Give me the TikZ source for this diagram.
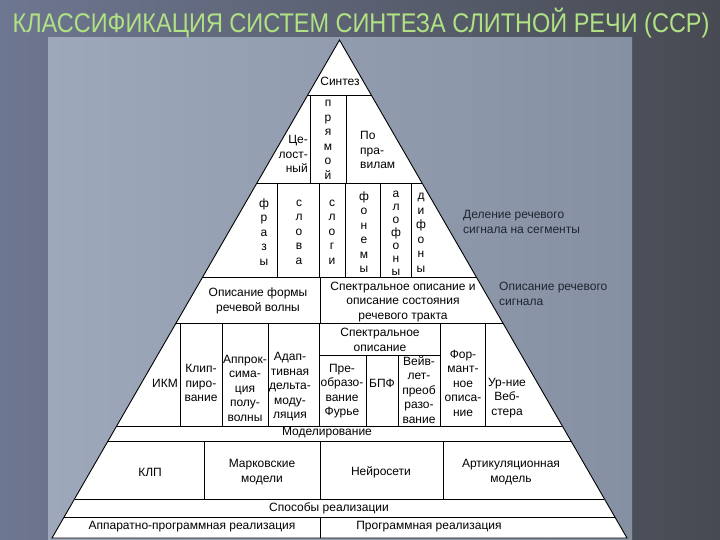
\documentclass[tikz,border=0pt]{standalone}
\usepackage{fontspec}
\setmainfont{Liberation Sans}
\newfontfamily\titlefont[FakeStretch=0.87]{Liberation Sans}

\definecolor{titlegreen}{HTML}{B0E283}
\definecolor{bgleft}{HTML}{6E7791}
\definecolor{bgright}{HTML}{474A52}
\definecolor{panelleft}{HTML}{9DA8BA}
\definecolor{panelright}{HTML}{8591A3}
\definecolor{sidetext}{HTML}{1E2430}

\begin{document}
\begin{tikzpicture}[x=1pt, y=-1pt,
  rule/.style={draw=black, line width=0.9pt},
  cell/.style={inner sep=0pt, align=center, font=\fontsize{12}{14.5}\selectfont},
  letters/.style={cell, font=\fontsize{12}{14.5}\selectfont},
  sidelabel/.style={inner sep=0pt, anchor=west, align=left, text=sidetext, font=\fontsize{12}{14.5}\selectfont},
  title/.style={inner sep=0pt, anchor=base, font=\titlefont\fontsize{27}{30}\selectfont}]
  \useasboundingbox (0,0) rectangle (720,540);
  % slide background and panel
  \fill[left color=bgleft, right color=bgright] (0,0) rectangle (720,540);
  \fill[left color=panelleft, right color=panelright] (48,38) rectangle (632,540);
  \node[title, text=titlegreen] (head) at (361,33) {КЛАССИФИКАЦИЯ СИСТЕМ СИНТЕЗА СЛИТНОЙ РЕЧИ (ССР)};

  % pyramid
  \draw[rule, fill=white] (339.5,40) -- (52,538) -- (627,538) -- cycle;
  \foreach \yy in {95,183,277,323,426,441,499,517}
    \draw[rule] ({339.5-(\yy-40)*0.577},\yy) -- ({339.5+(\yy-40)*0.577},\yy);
  \foreach \xx in {310,346} \draw[rule] (\xx,95) -- (\xx,183);
  \foreach \xx in {277,319,345,380,411} \draw[rule] (\xx,183) -- (\xx,277);
  \draw[rule] (320,277) -- (320,323);
  \foreach \xx in {180,222,268,319,440,485} \draw[rule] (\xx,323) -- (\xx,426);
  \draw[rule] (319,355) -- (440,355);
  \foreach \xx in {366,398} \draw[rule] (\xx,355) -- (\xx,426);
  \foreach \xx in {204,320,443} \draw[rule] (\xx,441) -- (\xx,499);
  \draw[rule] (320,517) -- (320,538);

  % top
  \node[cell] (sintez) at (340,81) {Синтез};
  \node[cell, anchor=east, align=right] (tselost) at (308,154) {Це-\\лост-\\ный};
  \node[letters] (pryamoy) at (328,140) {п\\р\\я\\м\\о\\й};
  \node[cell, anchor=west, align=left] (pravila) at (360,150) {По\\пра-\\вилам};

  % segments
  \node[letters] (frazy) at (264,232) {ф\\р\\а\\з\\ы};
  \node[letters] (slova) at (299,232) {с\\л\\о\\в\\а};
  \node[letters] (slogi) at (332,232) {с\\л\\о\\г\\и};
  \node[letters] (fonemy) at (364,232) {ф\\о\\н\\е\\м\\ы};
  \node[letters, font=\fontsize{12}{13}\selectfont] (allofony) at (396,233) {а\\л\\о\\ф\\о\\н\\ы};
  \node[letters] (difony) at (421,233) {д\\и\\ф\\о\\н\\ы};
  \node[sidelabel] (delenie) at (463,222) {Деление речевого\\сигнала на сегменты};

  % description
  \node[cell] (forma) at (258,301) {Описание формы\\речевой волны};
  \node[cell] (spektr) at (403,302) {Спектральное описание и\\описание состояния\\речевого тракта};
  \node[sidelabel] (opisanie) at (499,294) {Описание речевого\\сигнала};

  % methods
  \node[cell] (ikm) at (165,383) {ИКМ};
  \node[cell] (klip) at (201,383) {Клип-\\пиро-\\вание};
  \node[cell] (approx) at (245,388) {Аппрок-\\сима-\\ция\\полу-\\волны};
  \node[cell] (adapt) at (290,387) {Адап-\\тивная\\дельта-\\моду-\\ляция};
  \node[cell] (spektropis) at (380,340) {Спектральное\\описание};
  \node[cell] (furie) at (342,391) {Пре-\\образо-\\вание\\Фурье};
  \node[cell] (bpf) at (382,383) {БПФ};
  \node[cell] (veyvlet) at (419,390) {Вейв-\\лет-\\преоб\\разо-\\вание};
  \node[cell] (formant) at (463,383) {Фор-\\мант-\\ное\\описа-\\ние};
  \node[cell] (webster) at (507,398) {Ур-ние\\Веб-\\стера};

  % modelling
  \node[cell] (model) at (327,433) {Моделирование};
  \node[cell] (klp) at (150,472) {КЛП};
  \node[cell] (markov) at (262,472) {Марковские\\модели};
  \node[cell] (neuro) at (381,472) {Нейросети};
  \node[cell] (artik) at (511,472) {Артикуляционная\\модель};

  % realisation
  \node[cell] (sposoby) at (329,508) {Способы реализации};
  \node[cell] (apparat) at (192,527) {Аппаратно-программная реализация};
  \node[cell] (program) at (429,527) {Программная реализация};
\end{tikzpicture}
\end{document}
